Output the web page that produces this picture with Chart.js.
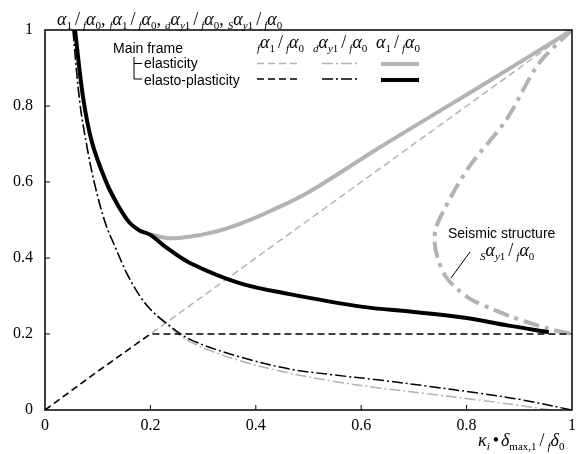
<!DOCTYPE html>
<html>
<head>
<meta charset="utf-8">
<script src="https://cdn.jsdelivr.net/npm/chart.js@4.4.1/dist/chart.umd.min.js"></script>
<style>
  body { margin: 0; background: #fff; }
  #wrap { width: 582px; height: 454px; }
</style>
</head>
<body>
<div id="wrap"><canvas id="chartRatio" width="582" height="454"></canvas></div>
<script>
// fα1 / fα0 : frame strength ratio
const fElasticX = [0, 1];
const fElasticY = [0, 1];
const fPlasticX = [0, 0.1, 0.2, 1];
const fPlasticY = [0, 0.102, 0.2, 0.2];

// dαy1 / fα0 : damper yield ratio
const dPlasticX = [0.053, 0.066, 0.08, 0.095, 0.115, 0.136, 0.155, 0.18, 0.2, 0.227, 0.275, 0.369, 0.464, 0.55, 0.634, 0.73, 0.824, 0.9, 1];
const dPlasticY = [1.0, 0.81, 0.69, 0.59, 0.49, 0.42, 0.36, 0.3, 0.265, 0.232, 0.186, 0.14, 0.108, 0.092, 0.079, 0.062, 0.044, 0.028, 0.0];
const dElasticX = [0.053, 0.066, 0.08, 0.095, 0.115, 0.136, 0.155, 0.18, 0.2, 0.227, 0.275, 0.369, 0.464, 0.55, 0.634, 0.73, 0.824, 0.9, 0.96];
const dElasticY = [1.0, 0.81, 0.69, 0.59, 0.49, 0.42, 0.36, 0.3, 0.265, 0.23, 0.18, 0.13, 0.097, 0.075, 0.058, 0.042, 0.026, 0.012, 0.0];

// α1 / fα0 : total strength ratio
const aElasticX = [0.2, 0.235, 0.27, 0.32, 0.37, 0.43, 0.5, 0.634, 0.761, 0.875, 1];
const aElasticY = [0.462, 0.452, 0.455, 0.468, 0.49, 0.525, 0.573, 0.69, 0.797, 0.893, 1];
const aPlasticX = [0.057, 0.072, 0.089, 0.117, 0.14, 0.161, 0.18, 0.2, 0.23, 0.275, 0.369, 0.464, 0.6, 0.7, 0.8, 0.88, 0.956];
const aPlasticY = [1, 0.825, 0.705, 0.597, 0.535, 0.492, 0.472, 0.461, 0.428, 0.387, 0.334, 0.305, 0.272, 0.258, 0.242, 0.222, 0.205];

// Sαy1 / fα0 : seismic structure
const seismicX = [1, 0.9375, 0.875, 0.81, 0.78, 0.754, 0.742, 0.739, 0.745, 0.761, 0.785, 0.811, 0.85, 0.886, 0.95, 1];
const seismicY = [1, 0.913, 0.763, 0.65, 0.585, 0.518, 0.48, 0.447, 0.4, 0.35, 0.315, 0.289, 0.265, 0.245, 0.216, 0.2];

const GREY = "#b3b3b3";
const SERIF = "'Liberation Serif'";
const SANS = "'Liberation Sans'";

const DASH = [7, 4];
const DASH_DOT = [11, 3, 2, 3];
const THICK_DASH_DOT = [16, 6, 4, 6];

function pts(xs, ys) {
    return xs.map((x, i) => ({ x: x, y: ys[i] }));
}

function line(label, xs, ys, color, width, dash, tension) {
    return {
        label: label,
        data: pts(xs, ys),
        showLine: true,
        borderColor: color,
        borderWidth: width,
        borderDash: dash || [],
        pointRadius: 0,
        fill: false,
        tension: tension
    };
}

// text with subscripts: [text, kind]  kind: i=italic, r=roman, si=sub italic, sr=sub roman, g=gap
function drawMath(ctx, x, y, tokens, size) {
    let cx = x;
    tokens.forEach(([t, k]) => {
        if (k === "g") { cx += t; return; }
        const sub = k === "si" || k === "sr";
        const italic = k === "i" || k === "si";
        const fs = sub ? Math.round(size * 0.62) : size;
        ctx.font = (italic ? "italic " : "") + fs + "px " + SERIF;
        ctx.fillText(t, cx, y + (sub ? size * 0.22 : 0));
        cx += ctx.measureText(t).width;
    });
}

const SLASH = [[3, "g"], ["/", "r"], [3, "g"]];
const fa0 = [["f", "si"], ["α", "i"], ["0", "sr"]];
const tAlpha = [["α", "i"], ["1", "sr"], ...SLASH, ...fa0];
const tFrame = [["f", "si"], ["α", "i"], ["1", "sr"], ...SLASH, ...fa0];
const tDamper = [["d", "si"], ["α", "i"], ["y", "si"], ["1", "sr"], ...SLASH, ...fa0];
const tSeismic = [["S", "si"], ["α", "i"], ["y", "si"], ["1", "sr"], ...SLASH, ...fa0];
const comma = [[",", "r"], [4, "g"]];
const tHeader = [...tAlpha, ...comma, ...tFrame, ...comma, ...tDamper, ...comma, ...tSeismic];
const tXAxis = [["κ", "i"], ["i", "si"], [3, "g"], ["•", "r"], [2, "g"], ["δ", "i"], ["max,1", "sr"], [3, "g"], ["/", "r"], [3, "g"], ["f", "si"], ["δ", "i"], ["0", "sr"]];

function seg(ctx, x1, y1, x2, y2, color, width, dash) {
    ctx.save();
    ctx.strokeStyle = color;
    ctx.lineWidth = width;
    ctx.setLineDash(dash || []);
    ctx.beginPath();
    ctx.moveTo(x1, y1);
    ctx.lineTo(x2, y2);
    ctx.stroke();
    ctx.restore();
}

const overlay = {
    id: "overlay",
    afterDraw(chart) {
        const ctx = chart.ctx;
        const a = chart.chartArea;
        const sx = chart.scales.x, sy = chart.scales.y;
        ctx.save();

        // frame and inward ticks
        ctx.strokeStyle = "#000";
        ctx.lineWidth = 1.5;
        ctx.strokeRect(a.left, a.top, a.right - a.left, a.bottom - a.top);
        [0.2, 0.4, 0.6, 0.8].forEach(v => {
            seg(ctx, sx.getPixelForValue(v), a.bottom, sx.getPixelForValue(v), a.bottom - 5, "#000", 1);
            seg(ctx, a.left, sy.getPixelForValue(v), a.left + 5, sy.getPixelForValue(v), "#000", 1);
        });

        ctx.fillStyle = "#000";
        ctx.textBaseline = "alphabetic";
        ctx.textAlign = "left";
        drawMath(ctx, 57, 25, tHeader, 18);
        drawMath(ctx, 478, 446, tXAxis, 18);

        // legend
        ctx.font = "14px " + SANS;
        ctx.fillText("Main frame", 113, 53);
        ctx.fillText("elasticity", 144, 68);
        ctx.fillText("elasto-plasticity", 144, 85);
        seg(ctx, 134, 57, 134, 79, "#000", 1);
        seg(ctx, 134, 63.5, 142, 63.5, "#000", 1);
        seg(ctx, 134, 79, 142, 79, "#000", 1);

        drawMath(ctx, 257, 48, tFrame, 18);
        drawMath(ctx, 313, 48, tDamper, 18);
        drawMath(ctx, 376, 48, tAlpha, 18);

        seg(ctx, 257, 63.5, 300, 63.5, GREY, 1.5, DASH);
        seg(ctx, 257, 79, 300, 79, "#000", 1.5, DASH);
        seg(ctx, 322, 63.5, 360, 63.5, GREY, 1.5, DASH_DOT);
        seg(ctx, 322, 79, 360, 79, "#000", 1.5, DASH_DOT);
        seg(ctx, 381, 64, 419, 64, GREY, 4);
        seg(ctx, 381, 80, 419, 80, "#000", 4);

        // seismic structure note
        ctx.fillStyle = "#000";
        ctx.font = "14px " + SANS;
        ctx.fillText("Seismic structure", 448, 238);
        drawMath(ctx, 480, 256, tSeismic, 18);
        seg(ctx, 451, 278, 470, 252, "#000", 1);

        ctx.restore();
    }
};

const tickFont = { family: SERIF, size: 16 };
const fmt = v => String(Math.round(v * 10) / 10);

const chart = new Chart(document.getElementById("chartRatio"), {
    type: "scatter",
    data: {
        datasets: [
            line("α1 elasto-plasticity", aPlasticX, aPlasticY, "#000", 4, null, 0.35),
            line("fα1 elasto-plasticity", fPlasticX, fPlasticY, "#000", 1.5, DASH, 0),
            line("dαy1 elasto-plasticity", dPlasticX, dPlasticY, "#000", 1.5, DASH_DOT, 0.35),
            line("α1 elasticity", aElasticX, aElasticY, GREY, 4, null, 0.35),
            line("Sαy1 seismic", seismicX, seismicY, GREY, 4, THICK_DASH_DOT, 0.3),
            line("dαy1 elasticity", dElasticX, dElasticY, GREY, 1.5, DASH_DOT, 0.35),
            line("fα1 elasticity", fElasticX, fElasticY, GREY, 1.5, DASH, 0)
        ]
    },
    options: {
        responsive: false,
        animation: false,
        font: { family: SERIF },
        layout: { padding: { top: 30, right: 9, left: 0, bottom: 0 } },
        plugins: {
            legend: { display: false },
            tooltip: { enabled: false }
        },
        scales: {
            x: {
                type: "linear",
                min: 0, max: 1,
                grid: { display: false, drawTicks: false },
                border: { display: false },
                ticks: { stepSize: 0.2, font: tickFont, color: "#000", padding: 6, maxRotation: 0, callback: fmt },
                afterFit(scale) { scale.height = 44; }
            },
            y: {
                type: "linear",
                min: 0, max: 1,
                grid: { display: false, drawTicks: false },
                border: { display: false },
                ticks: { stepSize: 0.2, font: tickFont, color: "#000", padding: 12, callback: fmt },
                afterFit(scale) { scale.width = 45; }
            }
        }
    },
    plugins: [overlay]
});
</script>
</body>
</html>
